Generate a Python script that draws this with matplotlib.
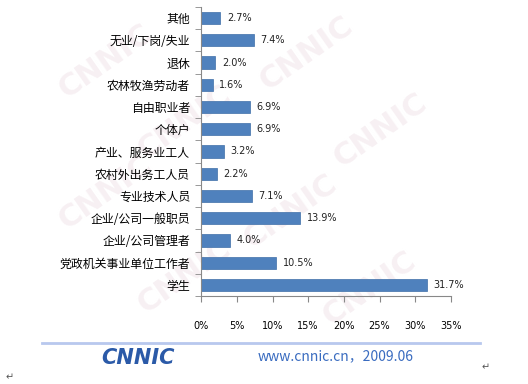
import matplotlib.pyplot as plt
from matplotlib.ticker import FixedLocator

plt.rcParams['font.family'] = ['Noto Sans CJK SC', 'DejaVu Sans']

# 职业分布（由下到上）
occupations = ['学生', '党政机关事业单位工作者', '企业/公司管理者', '企业/公司一般职员',
               '专业技术人员', '农村外出务工人员', '产业、服务业工人', '个体户',
               '自由职业者', '农林牧渔劳动者', '退休', '无业/下岗/失业', '其他']
shares = [31.7, 10.5, 4.0, 13.9, 7.1, 2.2, 3.2, 6.9, 6.9, 1.6, 2.0, 7.4, 2.7]
xticks = [0, 5, 10, 15, 20, 25, 30, 35]

fig = plt.figure(figsize=(5.28, 3.84), dpi=100)

# 水印
for (wx, wy) in [(0.2, 0.84), (0.58, 0.86), (0.35, 0.68), (0.72, 0.66),
                 (0.2, 0.5), (0.55, 0.45), (0.35, 0.28), (0.7, 0.25)]:
    fig.text(wx, wy, 'CNNIC', fontsize=22, color='#f7f0f3', rotation=35,
             ha='center', va='center', fontweight='bold', family='DejaVu Sans', zorder=-5)

ax = fig.add_axes([0.381, 0.229, 0.473, 0.753])
ax.set_zorder(2)
ax.patch.set_alpha(0)
y = range(len(occupations))
ax.barh(y, shares, height=0.55, color='#4f81bd', edgecolor='#3f6fa8', linewidth=0.5)
for i, v in enumerate(shares):
    ax.text(v + 0.9, i, f'{v:.1f}%', va='center', ha='left', fontsize=7,
            family='DejaVu Sans', color='#222222')

ax.set_xlim(0, 35)
ax.set_ylim(-0.5, len(occupations) - 0.5)
ax.set_xticks(xticks)
ax.set_xticklabels([f'{t}%' for t in xticks], fontsize=7, family='DejaVu Sans')
ax.set_yticks(list(y))
ax.set_yticklabels(occupations, fontsize=8.6)
ax.yaxis.set_minor_locator(FixedLocator([i - 0.5 for i in range(len(occupations) + 1)]))
ax.tick_params(axis='y', which='major', length=0, pad=8)
ax.tick_params(axis='y', which='minor', length=4, color='#888888')
ax.tick_params(axis='x', length=4, color='#888888', pad=14)
for s in ['top', 'right']:
    ax.spines[s].set_visible(False)
for s in ['left', 'bottom']:
    ax.spines[s].set_color('#888888')
    ax.spines[s].set_linewidth(0.8)

# 底部标识
fig.add_artist(plt.Line2D([0.08, 0.91], [0.107, 0.107], color='#b8c8ee', linewidth=2))
fig.text(0.262, 0.068, 'CNNIC', fontsize=15, color='#2b5aa8', fontweight='heavy',
         fontstyle='italic', family='DejaVu Sans', ha='center', va='center')
fig.text(0.488, 0.073, 'www.cnnic.cn，2009.06', fontsize=10, color='#3a6cc0',
         ha='left', va='center')
fig.text(0.01, 0.01, '↵', fontsize=7, color='#555555', family='DejaVu Sans')
fig.text(0.912, 0.035, '↵', fontsize=7, color='#555555', family='DejaVu Sans')

fig.savefig('out.png', dpi=100)
